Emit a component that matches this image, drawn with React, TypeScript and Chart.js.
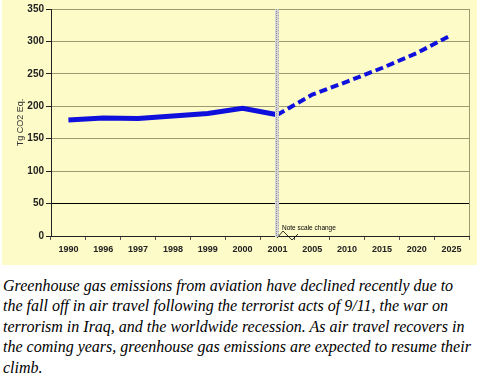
import React, { useEffect, useRef } from "react";
import { Chart, registerables } from "chart.js";

Chart.register(...registerables);

const categories = ["1990", "1996", "1997", "1998", "1999", "2000", "2001", "2005", "2010", "2015", "2020", "2025"];
const historical = [179, 182, 181, 185, 189, 197, 187, null, null, null, null, null];
const projected = [null, null, null, null, null, null, 187, 218, 238, 259, 282, 310];
const yTicks = [0, 50, 100, 150, 200, 250, 300, 350];
const yTitle = "Tg CO2 Eq.";
const noteText = "Note scale change";
const breakCategory = "2001";
const captionLines = [
  "Greenhouse gas emissions from aviation have declined recently due to",
  "the fall off in air travel following the terrorist acts of 9/11, the war on",
  "terrorism in Iraq, and the worldwide recession. As air travel recovers in",
  "the coming years, greenhouse gas emissions are expected to resume their",
  "climb.",
];

const BG = "#fdfbc8";
const GRID = "#9d9a72";
const BLUE = "#1010dd";
const SANS = "'Helvetica Neue', 'Helvetica', 'Arial', sans-serif";

const decorPlugin = {
  id: "decor",
  afterDatasetsDraw(chart: any) {
    const { ctx, chartArea, scales } = chart;
    const xs = scales.x;
    ctx.save();
    ctx.strokeStyle = GRID;
    ctx.lineWidth = 1;
    ctx.beginPath();
    ctx.moveTo(chartArea.right + 0.5, chartArea.top);
    ctx.lineTo(chartArea.right + 0.5, chartArea.bottom);
    ctx.stroke();
    const bx = Math.round(xs.getPixelForValue(categories.indexOf(breakCategory)));
    ctx.fillStyle = "#d6d6d6";
    ctx.fillRect(bx - 2, chartArea.top, 4, chartArea.bottom - chartArea.top + 1);
    ctx.strokeStyle = "#8e8e8e";
    ctx.setLineDash([1, 1]);
    ctx.beginPath();
    ctx.moveTo(bx - 0.5, chartArea.top);
    ctx.lineTo(bx - 0.5, chartArea.bottom);
    ctx.stroke();
    ctx.strokeStyle = "#a8a8a8";
    ctx.setLineDash([1, 2]);
    ctx.beginPath();
    ctx.moveTo(bx + 1.5, chartArea.top);
    ctx.lineTo(bx + 1.5, chartArea.bottom);
    ctx.stroke();
    ctx.setLineDash([]);
    const b = chartArea.bottom;
    ctx.strokeStyle = "#000";
    ctx.lineWidth = 0.8;
    ctx.beginPath();
    ctx.moveTo(bx, b + 2);
    ctx.lineTo(bx + 6, b - 5);
    ctx.lineTo(bx + 15, b + 4);
    ctx.lineTo(bx + 21, b - 2);
    ctx.stroke();
    ctx.fillStyle = "#000";
    ctx.font = "6.5px " + SANS;
    ctx.textBaseline = "middle";
    ctx.textAlign = "left";
    ctx.fillText(noteText, bx + 5, b - 8);
    ctx.restore();
  },
};

export default function App() {
  const ref = useRef<HTMLCanvasElement | null>(null);
  useEffect(() => {
    if (!ref.current) return;
    const chart = new Chart(ref.current, {
      type: "line",
      data: {
        labels: categories,
        datasets: [
          {
            data: historical,
            borderColor: BLUE,
            borderWidth: 5,
            pointRadius: 0,
            tension: 0,
            spanGaps: false,
          },
          {
            data: projected,
            borderColor: BLUE,
            borderWidth: 4,
            borderDash: [8, 4],
            pointRadius: 0,
            tension: 0,
            spanGaps: false,
          },
        ],
      },
      options: {
        animation: false,
        responsive: false,
        maintainAspectRatio: false,
        layout: { padding: { top: 9, right: 8, left: 0, bottom: 0 } },
        plugins: { legend: { display: false }, tooltip: { enabled: false } },
        scales: {
          x: {
            offset: true,
            grid: { offset: true, drawOnChartArea: false, tickLength: 4, color: "#333", tickColor: "#555" },
            border: { color: "#222", width: 1 },
            ticks: {
              color: "#222",
              font: { family: SANS, size: 9, weight: "bold" },
              padding: 4,
              maxRotation: 0,
              autoSkip: false,
            },
            afterFit: (s: any) => {
              s.height = 29;
            },
          },
          y: {
            min: 0,
            max: 350,
            afterBuildTicks: (s: any) => {
              s.ticks = yTicks.map((v) => ({ value: v }));
            },
            grid: {
              color: (c: any) => (c.tick && c.tick.value === 50 ? "#000" : GRID),
              tickColor: "#222",
              tickLength: 5,
              lineWidth: 1,
            },
            border: { color: "#222", width: 1 },
            ticks: {
              color: "#222",
              font: { family: SANS, size: 10, weight: "bold" },
              padding: 2,
            },
            title: {
              display: true,
              text: yTitle,
              color: "#333",
              font: { family: SANS, size: 9 },
              padding: { top: 13, bottom: 0 },
            },
            afterFit: (s: any) => {
              s.width = 49;
            },
          },
        },
      },
      plugins: [decorPlugin],
    } as any);
    return () => chart.destroy();
  }, []);

  return (
    <div style={{ position: "absolute", left: 0, top: 0, width: 485, height: 378, overflow: "hidden" }}>
      <div style={{ position: "absolute", left: 2, top: 0, width: 475, height: 265, background: BG }}>
        <canvas ref={ref} width={475} height={265} style={{ display: "block", width: 475, height: 265 }} />
      </div>
      <div
        style={{
          position: "absolute",
          left: 3,
          top: 276,
          whiteSpace: "nowrap",
          fontStyle: "italic",
          fontSize: 16,
          lineHeight: "20.4px",
          color: "#000",
        }}
      >
        {captionLines.map((l, i) => (
          <div key={i} style={{ fontFamily: "'Times New Roman', Tinos, 'Liberation Serif', serif" }}>
            {l}
          </div>
        ))}
      </div>
    </div>
  );
}
